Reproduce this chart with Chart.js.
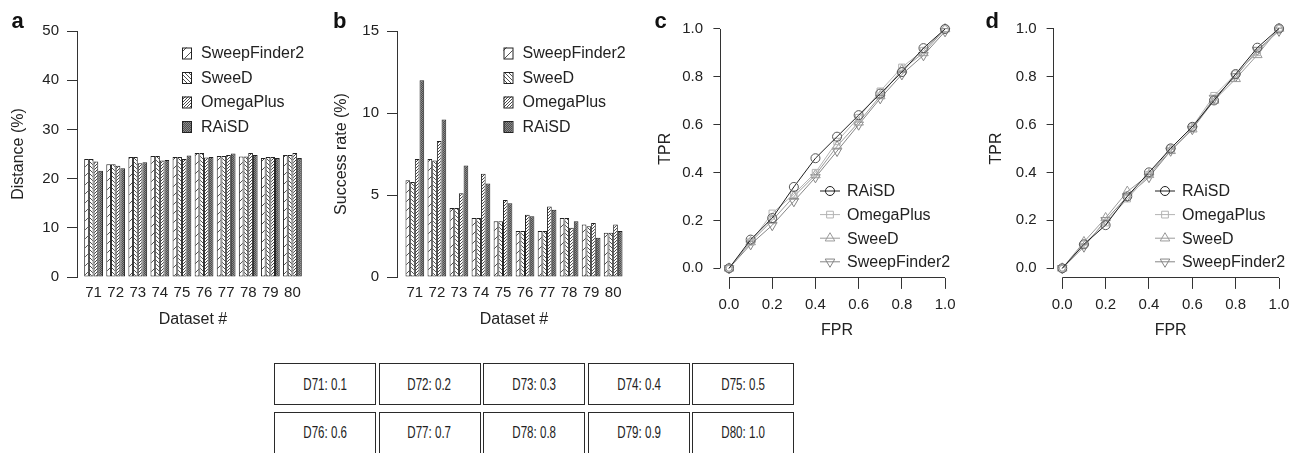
<!DOCTYPE html>
<html>
<head>
<meta charset="utf-8">
<script src="https://cdn.jsdelivr.net/npm/chart.js@4.4.1/dist/chart.umd.min.js"></script>
<style>
  html, body { margin: 0; padding: 0; background: #fff; }
  body { width: 1303px; height: 453px; position: relative; overflow: hidden; font-family: "Liberation Sans", Arial, sans-serif; }
  .panel { position: absolute; top: 0; height: 345px; }
  .cell { position: absolute; box-sizing: border-box; width: 102px; height: 42px; border: 1px solid #2a2a2a;
          display: flex; align-items: center; justify-content: center; font-size: 16.5px; color: #222; }
  .cell span { display: inline-block; transform: scaleX(0.7); white-space: nowrap; }
</style>
</head>
<body>
<div class="panel" style="left:0;width:320px"><canvas id="chartA"></canvas></div>
<div class="panel" style="left:320px;width:320px"><canvas id="chartB"></canvas></div>
<div class="panel" style="left:640px;width:335px"><canvas id="chartC"></canvas></div>
<div class="panel" style="left:975px;width:328px"><canvas id="chartD"></canvas></div>
<div id="table"></div>
<script>
// ---- data ----
const datasetIds = [71, 72, 73, 74, 75, 76, 77, 78, 79, 80];
const barTools = ['SweepFinder2', 'SweeD', 'OmegaPlus', 'RAiSD'];

// panel a: distance (%)
const distSweepFinder2 = [24.0, 22.9, 24.4, 24.6, 24.4, 25.2, 24.6, 24.5, 24.2, 24.8];
const distSweeD        = [24.0, 22.9, 24.4, 24.6, 24.4, 25.2, 24.6, 24.5, 24.4, 24.8];
const distOmegaPlus    = [23.5, 22.6, 23.1, 23.7, 24.0, 24.3, 24.8, 25.2, 24.4, 25.2];
const distRAiSD        = [21.6, 22.1, 23.3, 23.8, 24.7, 24.4, 25.1, 24.8, 24.2, 24.2];

// panel b: success rate (%)
const succSweepFinder2 = [5.9, 7.2, 4.2, 3.6, 3.4, 2.8, 2.8, 3.6, 3.2, 2.7];
const succSweeD        = [5.8, 7.1, 4.2, 3.6, 3.4, 2.8, 2.8, 3.6, 3.1, 2.7];
const succOmegaPlus    = [7.2, 8.3, 5.1, 6.3, 4.7, 3.8, 4.3, 3.0, 3.3, 3.2];
const succRAiSD        = [12.0, 9.6, 6.8, 5.7, 4.5, 3.7, 4.1, 3.4, 2.4, 2.8];

// panels c, d: ROC (TPR at each FPR)
const fpr = [0.0, 0.1, 0.2, 0.3, 0.4, 0.5, 0.6, 0.7, 0.8, 0.9, 1.0];
const rocTools = ['RAiSD', 'OmegaPlus', 'SweeD', 'SweepFinder2'];
const tprC_RAiSD        = [0.00, 0.12, 0.21, 0.34, 0.46, 0.55, 0.64, 0.73, 0.82, 0.92, 1.00];
const tprC_OmegaPlus    = [0.00, 0.11, 0.23, 0.31, 0.40, 0.53, 0.63, 0.74, 0.84, 0.91, 1.00];
const tprC_SweeD        = [0.00, 0.11, 0.20, 0.30, 0.39, 0.51, 0.61, 0.72, 0.83, 0.90, 1.00];
const tprC_SweepFinder2 = [0.00, 0.10, 0.18, 0.28, 0.38, 0.49, 0.60, 0.71, 0.81, 0.89, 0.99];
const tprD_RAiSD        = [0.00, 0.10, 0.18, 0.30, 0.40, 0.50, 0.59, 0.70, 0.81, 0.92, 1.00];
const tprD_OmegaPlus    = [0.00, 0.10, 0.19, 0.29, 0.39, 0.50, 0.59, 0.72, 0.81, 0.90, 1.00];
const tprD_SweeD        = [0.00, 0.11, 0.21, 0.32, 0.39, 0.49, 0.58, 0.70, 0.79, 0.89, 1.00];
const tprD_SweepFinder2 = [0.00, 0.09, 0.20, 0.30, 0.38, 0.49, 0.58, 0.71, 0.80, 0.91, 0.99];

// table below
const tableValues = ['0.1', '0.2', '0.3', '0.4', '0.5', '0.6', '0.7', '0.8', '0.9', '1.0'];

Chart.defaults.font.family = '"Liberation Sans", Arial, sans-serif';
Chart.defaults.font.size = 15;
Chart.defaults.color = '#222';
Chart.defaults.animation = false;

// hatch pattern for bars
function hatch(ctx, bg, line, step, dir, lw) {
    const c = document.createElement('canvas');
    c.width = step; c.height = step;
    const g = c.getContext('2d');
    g.fillStyle = bg;
    g.fillRect(0, 0, step, step);
    g.strokeStyle = line;
    g.lineWidth = lw;
    g.beginPath();
    if (dir === '/') {
        g.moveTo(0, step); g.lineTo(step, 0);
        g.moveTo(-1, 1); g.lineTo(1, -1);
        g.moveTo(step - 1, step + 1); g.lineTo(step + 1, step - 1);
    } else {
        g.moveTo(0, 0); g.lineTo(step, step);
        g.moveTo(-1, step - 1); g.lineTo(1, step + 1);
        g.moveTo(step - 1, -1); g.lineTo(step + 1, 1);
    }
    g.stroke();
    return ctx.createPattern(c, 'repeat');
}

// panel letter
const panelTag = {
    id: 'panelTag',
    afterDraw(chart, args, opts) {
        const { ctx } = chart;
        ctx.save();
        ctx.font = 'bold 22px "Liberation Sans", Arial, sans-serif';
        ctx.fillStyle = '#111';
        ctx.textBaseline = 'alphabetic';
        ctx.fillText(opts.text, opts.x, opts.y);
        ctx.restore();
    },
};

// legend for the bar panels (inside the plot)
const barLegend = {
    id: 'barLegend',
    afterDraw(chart, args, opts) {
        const { ctx } = chart;
        ctx.save();
        chart.data.datasets.forEach((ds, i) => {
            const y = opts.y + i * opts.gap;
            ctx.fillStyle = ds.backgroundColor;
            ctx.fillRect(opts.x, y - 5.5, 9, 11);
            ctx.strokeStyle = '#222';
            ctx.lineWidth = 1;
            ctx.strokeRect(opts.x + 0.5, y - 5, 9, 11);
            ctx.fillStyle = '#222';
            ctx.font = '16px "Liberation Sans", Arial, sans-serif';
            ctx.textBaseline = 'middle';
            ctx.fillText(ds.label, opts.x + 19, y + 1);
        });
        ctx.restore();
    },
};

function marker(ctx, style, rot, r, x, y) {
    ctx.beginPath();
    if (style === 'circle') {
        ctx.arc(x, y, r, 0, Math.PI * 2);
    } else if (style === 'rect') {
        ctx.rect(x - r * 0.75, y - r * 0.75, r * 1.5, r * 1.5);
    } else {
        const s = rot ? -1 : 1;
        ctx.moveTo(x, y - s * r);
        ctx.lineTo(x + r * 0.87, y + s * r * 0.5);
        ctx.lineTo(x - r * 0.87, y + s * r * 0.5);
        ctx.closePath();
    }
    ctx.stroke();
}

// legend for ROC panels
const lineLegend = {
    id: 'lineLegend',
    afterDraw(chart, args, opts) {
        const { ctx } = chart;
        ctx.save();
        chart.data.datasets.forEach((ds, i) => {
            const y = opts.y + i * opts.gap;
            ctx.strokeStyle = ds.borderColor;
            ctx.lineWidth = 1;
            ctx.beginPath();
            ctx.moveTo(opts.x, y);
            ctx.lineTo(opts.x + 20, y);
            ctx.stroke();
            marker(ctx, ds.pointStyle, ds.pointRotation, ds.pointRadius, opts.x + 10, y);
            ctx.fillStyle = '#222';
            ctx.font = '16px "Liberation Sans", Arial, sans-serif';
            ctx.textBaseline = 'middle';
            ctx.fillText(ds.label, opts.x + 27, y + 1);
        });
        ctx.restore();
    },
};

// R style axis lines that stop at 0 and 1
const rAxes = {
    id: 'rAxes',
    afterDraw(chart) {
        const { ctx, chartArea } = chart;
        const { x, y } = chart.scales;
        const lx = Math.round(chartArea.left - 0.5) + 0.5;
        const by = Math.round(chartArea.bottom - 0.5) + 0.5;
        ctx.save();
        ctx.strokeStyle = '#333';
        ctx.lineWidth = 1;
        ctx.beginPath();
        ctx.moveTo(lx, y.getPixelForValue(0));
        ctx.lineTo(lx, y.getPixelForValue(1));
        ctx.moveTo(x.getPixelForValue(0), by);
        ctx.lineTo(x.getPixelForValue(1), by);
        ctx.stroke();
        ctx.restore();
    },
};

function barChart(id, series, yMax, yStep, yTitle, xMin, xMax, padRight, titlePad, tag) {
    const canvas = document.getElementById(id);
    const ctx = canvas.getContext('2d');
    const fills = [
        hatch(ctx, '#fff', '#222', 9, '/', 0.8),
        hatch(ctx, '#fff', '#222', 4, '\\', 0.8),
        hatch(ctx, '#fff', '#333', 3, '/', 0.9),
        hatch(ctx, '#8a8a8a', '#333', 2, '/', 0.7),
    ];
    return new Chart(canvas, {
        type: 'bar',
        data: {
            datasets: series.map((vals, i) => ({
                label: barTools[i],
                data: datasetIds.map((d, j) => ({ x: d, y: vals[j] })),
                backgroundColor: fills[i],
                borderColor: '#222',
                borderWidth: 1,
                borderSkipped: false,
                categoryPercentage: 0.85,
                barPercentage: 1.0,
            })),
        },
        options: {
            responsive: true,
            maintainAspectRatio: false,
            layout: { padding: { left: 0, right: padRight, top: 31, bottom: 0 } },
            plugins: {
                legend: { display: false },
                tooltip: { enabled: false },
                panelTag: tag,
                barLegend: { x: tag.legendX, y: 53, gap: 24.5 },
            },
            scales: {
                x: {
                    type: 'linear',
                    offset: false,
                    min: xMin,
                    max: xMax,
                    afterFit: (s) => { s.height = 68; },
                    grid: { display: false, drawTicks: false, offset: false },
                    border: { display: false },
                    ticks: { stepSize: 1, includeBounds: false, autoSkip: false, maxRotation: 0, padding: 7,
                             callback: (v) => String(v) },
                    title: { display: true, text: 'Dataset #', font: { size: 16 }, padding: { top: 0, bottom: 16 } },
                },
                y: {
                    min: 0,
                    max: yMax,
                    afterFit: (s) => { s.width = 77; },
                    grid: { drawOnChartArea: false, tickLength: 10, color: '#333' },
                    border: { display: true, color: '#333' },
                    ticks: { stepSize: yStep, padding: 8 },
                    title: { display: true, text: yTitle, font: { size: 16 }, padding: { top: titlePad, bottom: 0 } },
                },
            },
        },
        plugins: [panelTag, barLegend],
    });
}

function rocChart(id, series, yAxisW, padRight, labelPad, titlePad, tag) {
    const colors = ['#1e1e1e', '#b3b3b3', '#9a9a9a', '#858585'];
    const styles = ['circle', 'rect', 'triangle', 'triangle'];
    const rots = [0, 0, 0, 180];
    const radii = [4.5, 4.5, 5.5, 5.5];
    return new Chart(document.getElementById(id), {
        type: 'line',
        data: {
            datasets: series.map((vals, i) => ({
                label: rocTools[i],
                data: fpr.map((f, j) => ({ x: f, y: vals[j] })),
                borderColor: colors[i],
                borderWidth: 1,
                pointStyle: styles[i],
                pointRotation: rots[i],
                pointRadius: radii[i],
                pointBorderColor: i === 0 ? '#555' : colors[i],
                pointBackgroundColor: 'rgba(0,0,0,0)',
                pointBorderWidth: 1,
                tension: 0,
            })),
        },
        options: {
            responsive: true,
            maintainAspectRatio: false,
            layout: { padding: { left: 0, right: padRight, top: 18.7, bottom: 0 } },
            plugins: {
                legend: { display: false },
                tooltip: { enabled: false },
                panelTag: tag,
                lineLegend: { x: tag.legendX, y: 191, gap: 23.6 },
            },
            scales: {
                x: {
                    type: 'linear',
                    min: -0.04,
                    max: 1.04,
                    afterFit: (s) => { s.height = 67.1; },
                    grid: { drawOnChartArea: false, tickLength: 11, color: '#333' },
                    border: { display: false },
                    ticks: { stepSize: 0.2, includeBounds: false, padding: 7, maxRotation: 0,
                             callback: (v) => v.toFixed(1) },
                    title: { display: true, text: 'FPR', font: { size: 16 }, padding: { top: 0, bottom: 5 } },
                },
                y: {
                    min: -0.04,
                    max: 1.04,
                    afterFit: (s) => { s.width = yAxisW; },
                    grid: { drawOnChartArea: false, tickLength: 7, color: '#333' },
                    border: { display: false },
                    ticks: { stepSize: 0.2, includeBounds: false, padding: labelPad,
                             callback: (v) => v.toFixed(1) },
                    title: { display: true, text: 'TPR', font: { size: 16 }, padding: { top: titlePad, bottom: 0 } },
                },
            },
        },
        plugins: [panelTag, lineLegend, rAxes],
    });
}

barChart('chartA', [distSweepFinder2, distSweeD, distOmegaPlus, distRAiSD], 50, 10, 'Distance (%)',
    70.25, 80.75, 11, 9.4, { text: 'a', x: 11.5, y: 28.3, legendX: 182 });
barChart('chartB', [succSweepFinder2, succSweeD, succOmegaPlus, succRAiSD], 15, 5, 'Success rate (%)',
    70.19, 80.81, 9, 11.9, { text: 'b', x: 13, y: 28.3, legendX: 183.5 });
rocChart('chartC', [tprC_RAiSD, tprC_OmegaPlus, tprC_SweeD, tprC_SweepFinder2], 80.4, 21.3, 10.4, 15.7,
    { text: 'c', x: 14.5, y: 28.3, legendX: 180 });
rocChart('chartD', [tprD_RAiSD, tprD_OmegaPlus, tprD_SweeD, tprD_SweepFinder2], 78.6, 15.3, 9.9, 11.7,
    { text: 'd', x: 10.5, y: 28.3, legendX: 180 });

// table of dataset parameters
const table = document.getElementById('table');
datasetIds.forEach((d, i) => {
    const cell = document.createElement('div');
    cell.className = 'cell';
    cell.style.left = (274 + (i % 5) * 104.6).toFixed(1) + 'px';
    cell.style.top = (363 + Math.floor(i / 5) * 48.5) + 'px';
    const span = document.createElement('span');
    span.textContent = 'D' + d + ': ' + tableValues[i];
    cell.appendChild(span);
    table.appendChild(cell);
});
</script>
</body>
</html>
